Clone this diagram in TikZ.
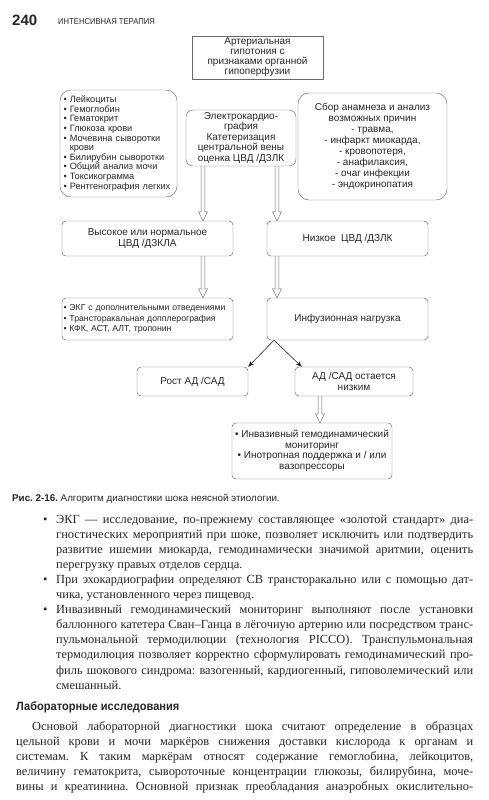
\documentclass[tikz,border=0pt]{standalone}
\usepackage{fontspec}
\setmainfont{Liberation Serif}
\newfontfamily\diafont{Liberation Sans}
\usepackage{graphicx}
\usetikzlibrary{arrows.meta,positioning,calc}
\definecolor{inkGray}{HTML}{262626}
\definecolor{lineGray}{HTML}{6A6A6A}
\frenchspacing

% hollow double-shaft arrow pointing down, from #1 to #2
\newcommand\hollowdown[2]{%
  \draw[hollow] ($(#1)+(-1.8,0)$) -- ($(#2)+(-1.8,-9)$) -- ($(#2)+(-4.6,-9)$) -- (#2)
    -- ($(#2)+(4.6,-9)$) -- ($(#2)+(1.8,-9)$) -- ($(#1)+(1.8,0)$);}

\begin{document}
\begin{tikzpicture}[x=1pt, y=-1pt,
  blk/.style={draw=lineGray, line width=0.45pt, rounded corners=4pt, align=center,
    inner sep=2pt, text=inkGray, font=\diafont\fontsize{10}{10.5}\selectfont},
  bigblk/.style={blk, rounded corners=11pt},
  hollow/.style={draw=lineGray, line width=0.45pt, line join=miter},
  thinarr/.style={draw=black!85, line width=0.6pt, -{Stealth[length=6pt,width=4.5pt]}},
  body/.style={anchor=base west, inner sep=0pt, text=inkGray, font=\fontsize{12.4}{15}\selectfont},
  sans/.style={anchor=base west, inner sep=0pt, text=inkGray}
]
\path[fill=white] (0,0) rectangle (488,800);
\useasboundingbox (0,0) rectangle (488,800);

% running head
\node[sans, font=\diafont\bfseries\fontsize{15}{15}\selectfont] (pgno) at (12,26) {240};
\node[sans, font=\diafont\fontsize{8.5}{9}\selectfont] (runhead) at (58,25)
  {\scalebox{0.9}[1]{ИНТЕНСИВНАЯ ТЕРАПИЯ}};

% algorithm
\node[blk, rounded corners=0pt, minimum width=131pt, minimum height=41pt,
  font=\diafont\fontsize{10}{10}\selectfont] (hypo) at (257.5,57.5)
  {Артериальная\\гипотония с\\признаками органной\\гипоперфузии};
\node[bigblk, align=left, text width=110pt, inner xsep=3.5pt, minimum height=107pt,
  font=\diafont\fontsize{9.2}{9.6}\selectfont] (labs) at (118.5,143.5)
  {• Лейкоциты\\• Гемоглобин\\• Гематокрит\\• Глюкоза крови\\• Мочевина сыворотки\\
   \hphantom{• }крови\\• Билирубин сыворотки\\• Общий анализ мочи\\• Токсикограмма\\
   • Рентгенография легких};
\node[blk, rounded corners=7pt, minimum width=110pt, minimum height=56pt] (ecgbox) at (241,138)
  {Электрокардио-\\графия\\Катетеризация\\центральной вены\\оценка ЦВД /ДЗЛК};
\node[bigblk, minimum width=149pt, minimum height=107pt,
  font=\diafont\fontsize{10}{11}\selectfont] (anam) at (372.5,146.5)
  {Сбор анамнеза и анализ\\возможных причин\\- травма,\\- инфаркт миокарда,\\
   - кровопотеря,\\- анафилаксия,\\- очаг инфекции\\- эндокринопатия};
\node[blk, minimum width=171pt, minimum height=35pt] (cvdhi) at (147.5,238.5)
  {Высокое или нормальное\\ЦВД /ДЗКЛА};
\node[blk, minimum width=161pt, minimum height=35pt] (cvdlo) at (347.5,238.5)
  {Низкое\ \ ЦВД /ДЗЛК};
\node[blk, align=left, text width=168pt, inner sep=1.5pt, minimum height=42pt,
  font=\diafont\fontsize{8.7}{10.3}\selectfont] (ischem) at (147.5,319)
  {• ЭКГ с дополнительными отведениями\\• Трансторакальная допплерография\\
   • КФК, АСТ, АЛТ, тропонин};
\node[blk, minimum width=161pt, minimum height=42pt] (fluid) at (347.5,319)
  {Инфузионная нагрузка};
\node[blk, minimum width=111pt, minimum height=29pt] (bprise) at (192.5,381.5)
  {Рост АД /САД};
\node[blk, minimum width=118pt, minimum height=29pt] (bplow) at (354,381.5)
  {АД /САД остается\\низким};
\node[blk, minimum width=160pt, minimum height=56pt] (invas) at (312,451)
  {• Инвазивный гемодинамический\\мониторинг\\• Инотропная поддержка и / или\\вазопрессоры};

\coordinate (xl) at (203,0);
\coordinate (xr) at (277,0);
\coordinate (xs) at (320,0);
\coordinate (xa) at (274,0);
\hollowdown{ecgbox.south -| xl}{cvdhi.north -| xl}
\hollowdown{ecgbox.south -| xr}{cvdlo.north -| xr}
\hollowdown{cvdhi.south -| xl}{ischem.north -| xl}
\hollowdown{cvdlo.south -| xr}{fluid.north -| xr}
\hollowdown{bplow.south -| xs}{invas.north -| xs}
\draw[thinarr] (fluid.south -| xa) -- (bprise.north east);
\draw[thinarr] (fluid.south -| xa) -- ([xshift=7pt]bplow.north west);

% caption
\node[sans, font=\diafont\fontsize{9.8}{10}\selectfont] (cap) at (12,501)
  {\textbf{Рис. 2-16.} Алгоритм диагностики шока неясной этиологии.};

% bulleted text
\foreach \t/\m [count=\i] in {
  {ЭКГ — исследование, по-прежнему составляющее «золотой стандарт» диа-}/s,
  {гностических мероприятий при шоке, позволяет исключить или подтвердить}/s,
  {развитие ишемии миокарда, гемодинамически значимой аритмии, оценить}/s,
  {перегрузку правых отделов сердца.}/l,
  {При эхокардиографии определяют СВ трансторакально или с помощью дат-}/s,
  {чика, установленного через пищевод.}/l,
  {Инвазивный гемодинамический мониторинг выполняют после установки}/s,
  {баллонного катетера Сван–Ганца в лёгочную артерию или посредством транс-}/s,
  {пульмональной термодилюции (технология PICCO). Транспульмональная}/s,
  {термодилюция позволяет корректно сформулировать гемодинамический про-}/s,
  {филь шокового синдрома: вазогенный, кардиогенный, гиповолемический или}/s,
  {смешанный.}/l}
  \node[body] (bl\i) at (56,{523+15.1*(\i-1)}) {\makebox[417pt][\m]{\t}};
\foreach \i in {1,5,7}
  \node[body] (bu\i) at (43,{523+15.1*(\i-1)}) {•};

% section
\node[sans, font=\diafont\bfseries\fontsize{12}{12}\selectfont] (labhead) at (16,710)
  {\scalebox{0.92}[1]{Лабораторные исследования}};
\node[body] (pl1) at (32,730)
  {\makebox[441pt][s]{Основой лабораторной диагностики шока считают определение в образцах}};
\foreach \t [count=\i from 2] in {
  {цельной крови и мочи маркёров снижения доставки кислорода к органам и},
  {системам. К таким маркёрам относят содержание гемоглобина, лейкоцитов,},
  {величину гематокрита, сывороточные концентрации глюкозы, билирубина, моче-},
  {вины и креатинина. Основной признак преобладания анаэробных окислительно-}}
  \node[body] (pl\i) at (16,{730+15.1*(\i-1)}) {\makebox[457pt][s]{\t}};
\end{tikzpicture}
\end{document}
